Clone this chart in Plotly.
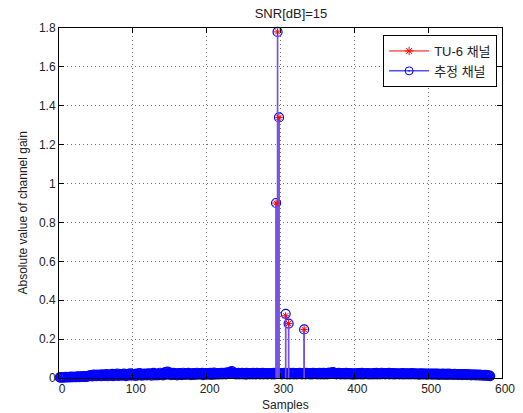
import plotly.graph_objects as go

# ---------------- data ----------------
samples = list(range(1, 585))

# estimated channel magnitude away from the taps (thousandths), read from the blue band
est_noise_milli = [
    3, 2, 4, 3, 5, 2, 4, 3, 6, 4, 3, 5, 4, 6, 3, 5, 7, 4, 5, 6,
    4, 6, 5, 7, 5, 8, 6, 5, 7, 6, 8, 6, 7, 9, 7, 8, 6, 9, 8, 10,
    12, 9, 15, 11, 8, 14, 17, 10, 13, 16, 9, 12, 18, 14, 11, 15, 10, 19, 13, 12,
    16, 11, 14, 20, 13, 9, 17, 15, 12, 18, 14, 21, 10, 16, 13, 19, 12, 15, 22, 14,
    11, 17, 13, 20, 15, 12, 18, 23, 14, 16, 10, 19, 15, 21, 13, 17, 24, 12, 18, 15,
    20, 14, 16, 11, 22, 17, 13, 19, 25, 15, 18, 12, 21, 16, 14, 23, 17, 20, 13, 19,
    24, 15, 18, 22, 12, 20, 16, 26, 14, 19, 17, 23, 13, 21, 18, 15, 27, 20, 16, 22,
    14, 25, 19, 30, 21, 17, 33, 24, 18, 28, 20, 15, 23, 19, 26, 16, 22, 18, 24, 14,
    21, 17, 25, 19, 23, 15, 20, 27, 18, 22, 16, 24, 19, 21, 26, 17, 23, 20, 15, 22,
    18, 25, 20, 16, 23, 19, 27, 21, 17, 24, 20, 22, 18, 26, 15, 23, 19, 21, 25, 17,
    22, 18, 24, 20, 26, 16, 23, 19, 21, 28, 17, 24, 20, 22, 18, 25, 19, 23, 21, 27,
    18, 24, 20, 26, 22, 19, 25, 29, 21, 23, 27, 31, 24, 35, 26, 22, 28, 20, 24, 19,
    23, 21, 26, 18, 24, 20, 22, 27, 19, 25, 21, 23, 17, 26, 20, 24, 22, 18, 25, 21,
    23, 19, 27, 22, 20, 24, 18, 26, 21, 23, 25, 19, 22, 24, 20, 26, 18, 23, 21, 25,
    22, 19, 24, 20, 23, 21, 25, 18, 22, 20, 26, 19, 23, 21, 24, 20, 22, 18, 25, 21,
    23, 19, 24, 21, 26, 20, 22, 25, 18, 23, 21, 27, 19, 24, 22, 20, 26, 18, 23, 21,
    25, 19, 22, 24, 20, 27, 21, 23, 18, 25, 22, 20, 24, 19, 26, 21, 23, 20, 25, 18,
    22, 24, 19, 26, 21, 23, 20, 25, 22, 18, 24, 21, 27, 19, 23, 22, 20, 26, 18, 24,
    21, 25, 19, 23, 22, 28, 20, 24, 26, 21, 30, 23, 27, 22, 25, 19, 24, 21, 26, 20,
    23, 18, 25, 21, 22, 19, 24, 20, 26, 18, 23, 21, 25, 19, 22, 20, 24, 17, 23, 21,
    19, 24, 20, 22, 18, 25, 21, 23, 19, 26, 20, 22, 18, 24, 21, 23, 20, 25, 19, 22,
    21, 18, 24, 20, 23, 19, 25, 22, 20, 26, 18, 24, 21, 23, 19, 22, 27, 20, 24, 21,
    23, 19, 25, 21, 22, 20, 26, 18, 24, 21, 23, 19, 25, 20, 22, 18, 24, 21, 23, 20,
    19, 24, 21, 22, 18, 25, 20, 23, 19, 22, 21, 24, 18, 23, 20, 22, 19, 25, 21, 20,
    22, 18, 24, 20, 21, 19, 23, 17, 22, 20, 24, 18, 21, 19, 23, 20, 22, 17, 21, 19,
    20, 23, 18, 21, 19, 22, 17, 20, 23, 18, 21, 19, 22, 16, 20, 18, 21, 19, 17, 22,
    19, 17, 21, 18, 20, 16, 22, 19, 18, 21, 17, 20, 18, 19, 16, 21, 18, 20, 17, 19,
    18, 16, 20, 17, 19, 15, 18, 20, 16, 19, 17, 18, 15, 19, 17, 16, 18, 14, 17, 16,
    15, 17, 16, 14, 18, 15, 16, 13, 17, 15, 14, 16, 13, 15, 14, 12, 16, 13, 14, 12,
    13, 11, 12, 10,
]

tap_idx = [294, 296, 298, 307, 311, 332]
tu6_gain = [0.90, 1.78, 1.34, 0.32, 0.28, 0.25]
est_tap_gain = [0.90, 1.78, 1.34, 0.33, 0.28, 0.25]

x_ticks = [0, 100, 200, 300, 400, 500, 600]
y_ticks = [0, 0.2, 0.4, 0.6, 0.8, 1.0, 1.2, 1.4, 1.6, 1.8]
y_tick_labels = ["0", "0.2", "0.4", "0.6", "0.8", "1", "1.2", "1.4", "1.6", "1.8"]

# estimated channel: band values (milli -> linear) with the estimated taps in place
est_gain = [v / 1000 for v in est_noise_milli]
for i, g in zip(tap_idx, est_tap_gain):
    est_gain[i - 1] = g


def stems(xs, ys):
    sx, sy = [], []
    for a, b in zip(xs, ys):
        sx += [a, a, None]
        sy += [0, b, None]
    return sx, sy


FONT = "Liberation Sans Narrow, Arial Narrow, Liberation Sans, Noto Sans CJK KR, sans-serif"
LEG_FONT = "Liberation Sans, Noto Sans CJK KR, sans-serif"

fig = go.Figure()

# legend entries (no data, legend only)
fig.add_trace(go.Scatter(x=[None], y=[None], mode="lines+markers", name="TU-6 채널",
                         line=dict(color="red", width=1),
                         marker=dict(symbol="asterisk-open", size=7, color="red",
                                     line=dict(color="red", width=1))))
fig.add_trace(go.Scatter(x=[None], y=[None], mode="lines+markers", name="추정 채널",
                         line=dict(color="#5050ff", width=1.5),
                         marker=dict(symbol="circle-open-dot", size=8, color="blue",
                                     line=dict(color="blue", width=1))))

# estimated channel stems + circles
bx, by = stems(samples, est_gain)
fig.add_trace(go.Scatter(x=bx, y=by, mode="lines", showlegend=False,
                         line=dict(color="blue", width=1), cliponaxis=False,
                         hoverinfo="skip"))
fig.add_trace(go.Scatter(x=samples, y=est_gain, mode="markers", showlegend=False,
                         cliponaxis=False,
                         marker=dict(symbol="circle-open", size=9, color="blue",
                                     line=dict(color="blue", width=1.2))))

# TU-6 true channel stems (blended with the blue stems underneath) + stars
rx, ry = stems(tap_idx, tu6_gain)
fig.add_trace(go.Scatter(x=rx, y=ry, mode="lines", showlegend=False,
                         line=dict(color="rgb(120,80,230)", width=1.6),
                         cliponaxis=False, hoverinfo="skip"))
fig.add_trace(go.Scatter(x=tap_idx, y=tu6_gain, mode="markers", showlegend=False,
                         cliponaxis=False,
                         marker=dict(symbol="asterisk-open", size=6, color="red",
                                     line=dict(color="red", width=1))))

axis_common = dict(
    showline=True, linecolor="black", linewidth=1, mirror="ticks",
    ticks="inside", ticklen=5, tickcolor="black", tickwidth=1,
    showgrid=True, gridcolor="#707070", gridwidth=1, griddash="1px,3px",
    zeroline=False, automargin=False,
    tickfont=dict(family=FONT, size=12, color="#222"),
)

fig.update_xaxes(range=[0, 600], tickvals=x_ticks, ticklabelshift=3, **axis_common)
fig.update_yaxes(range=[0, 1.8], tickvals=y_ticks, ticktext=y_tick_labels, **axis_common)

fig.update_layout(
    template="none",
    width=523, height=413,
    margin=dict(l=59, r=21, t=28, b=35, autoexpand=False),
    paper_bgcolor="white", plot_bgcolor="white",
    title=dict(text="SNR[dB]=15", x=291 / 523, xanchor="center",
               y=1 - 13 / 413, yanchor="middle",
               font=dict(family=FONT, size=13, color="#222")),
    showlegend=True,
    legend=dict(x=0.989, xanchor="right", y=0.98, yanchor="top",
                bgcolor="white", bordercolor="black", borderwidth=1,
                font=dict(family=LEG_FONT, size=13, color="#222"),
                itemwidth=40, tracegroupgap=0),
    annotations=[
        dict(text="Samples", xref="paper", yref="paper", x=(285.5 - 59) / 443,
             y=(378 - 405) / 350, xanchor="center", yanchor="middle", showarrow=False,
             font=dict(family=FONT, size=12, color="#222")),
        dict(text="Absolute value of channel gain", xref="paper", yref="paper",
             x=(22 - 59) / 443, y=0.47, xanchor="center", yanchor="middle",
             textangle=-90, showarrow=False,
             font=dict(family=FONT, size=12, color="#222")),
    ],
)

fig.write_html("out.html", config={"displayModeBar": False},
               post_script="document.body.style.margin='0';document.body.style.padding='0';")
